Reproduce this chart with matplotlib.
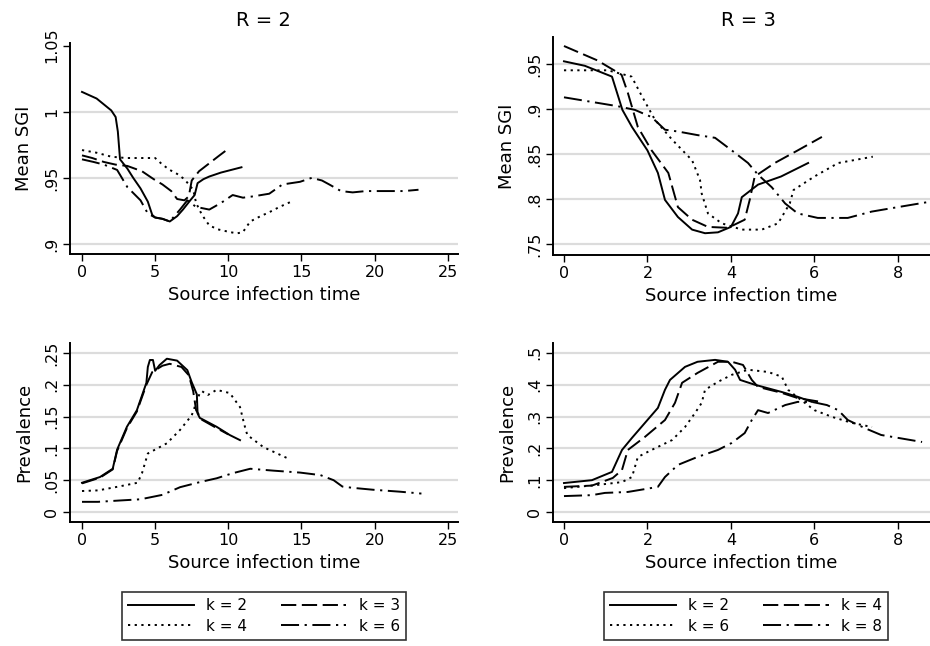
import matplotlib
matplotlib.use("Agg")
import matplotlib.pyplot as plt
from matplotlib.lines import Line2D

plt.rcParams["font.family"] = ["DejaVu Sans"]
plt.rcParams["lines.scale_dashes"] = False

# ---- R = 2, mean SGI ----
r2_sgi_k2_x = [0, 1, 2, 2.3, 2.45, 2.6, 3.1, 3.5, 4.0, 4.5, 4.8, 5.0, 5.5, 6.0, 6.5, 6.9, 7.4, 7.7, 7.9, 8.3, 8.7, 9.5, 10.2, 10.9]
r2_sgi_k2_y = [1.015, 1.010, 1.001, 0.996, 0.985, 0.964, 0.957, 0.950, 0.942, 0.932, 0.922, 0.920, 0.919, 0.917, 0.921, 0.926, 0.933, 0.937, 0.946, 0.949, 0.951, 0.954, 0.956, 0.958]
r2_sgi_k3_x = [0, 0.7, 1.5, 2.3, 3.1, 4.1, 4.9, 5.5, 6.1, 6.5, 7.0, 7.3, 7.5, 8.0, 8.7, 9.4, 10.0]
r2_sgi_k3_y = [0.967, 0.965, 0.962, 0.960, 0.959, 0.955, 0.949, 0.945, 0.940, 0.934, 0.933, 0.936, 0.948, 0.955, 0.961, 0.967, 0.972]
r2_sgi_k4_x = [0, 1.0, 2.0, 3.0, 4.0, 5.0, 5.5, 6.0, 6.5, 7.0, 7.6, 7.8, 8.2, 8.7, 9.3, 10.1, 10.6, 11.0, 11.5, 12.2, 12.8, 13.5, 14.3]
r2_sgi_k4_y = [0.971, 0.969, 0.966, 0.965, 0.965, 0.965, 0.960, 0.956, 0.953, 0.949, 0.941, 0.931, 0.922, 0.914, 0.911, 0.909, 0.908, 0.909, 0.917, 0.921, 0.924, 0.928, 0.932]
r2_sgi_k6_x = [0, 0.8, 1.5, 2.4, 3.1, 4.0, 4.5, 5.0, 5.5, 6.0, 6.7, 7.2, 7.8, 8.7, 9.5, 10.3, 11.0, 11.7, 12.8, 13.7, 14.9, 15.7, 16.4, 16.9, 17.7, 18.5, 19.4, 20.5, 22.0, 23.0]
r2_sgi_k6_y = [0.964, 0.962, 0.960, 0.956, 0.943, 0.933, 0.923, 0.920, 0.919, 0.917, 0.926, 0.933, 0.928, 0.926, 0.931, 0.937, 0.935, 0.936, 0.938, 0.945, 0.947, 0.950, 0.948, 0.945, 0.940, 0.939, 0.940, 0.940, 0.940, 0.941]

# ---- R = 3, mean SGI ----
r3_sgi_k2_x = [0, 0.5, 1.15, 1.4, 1.63, 2.0, 2.25, 2.42, 2.73, 3.07, 3.38, 3.69, 4.0, 4.17, 4.26, 4.65, 5.2, 5.85]
r3_sgi_k2_y = [0.953, 0.948, 0.936, 0.899, 0.880, 0.854, 0.829, 0.799, 0.780, 0.766, 0.762, 0.763, 0.769, 0.784, 0.802, 0.816, 0.825, 0.840]
r3_sgi_k4_x = [0, 0.8, 1.38, 1.53, 1.77, 2.1, 2.5, 2.73, 3.07, 3.45, 3.93, 4.33, 4.45, 4.57, 5.05, 5.6, 6.18]
r3_sgi_k4_y = [0.970, 0.954, 0.938, 0.918, 0.880, 0.854, 0.829, 0.791, 0.777, 0.769, 0.768, 0.777, 0.799, 0.825, 0.840, 0.854, 0.869]
r3_sgi_k6_x = [0, 1.05, 1.62, 1.87, 2.18, 2.59, 3.07, 3.26, 3.3, 3.45, 3.78, 4.26, 4.74, 5.13, 5.41, 5.5, 6.0, 6.57, 7.4]
r3_sgi_k6_y = [0.943, 0.943, 0.936, 0.914, 0.888, 0.866, 0.843, 0.821, 0.806, 0.784, 0.773, 0.766, 0.766, 0.773, 0.795, 0.810, 0.825, 0.840, 0.847]
r3_sgi_k8_x = [0, 0.65, 1.3, 1.7, 2.1, 2.42, 2.73, 3.2, 3.62, 4.02, 4.41, 4.65, 4.98, 5.3, 5.6, 6.08, 6.8, 7.37, 8.0, 8.77]
r3_sgi_k8_y = [0.913, 0.908, 0.903, 0.899, 0.891, 0.877, 0.875, 0.871, 0.868, 0.854, 0.840, 0.827, 0.813, 0.795, 0.784, 0.779, 0.779, 0.786, 0.791, 0.797]

# ---- R = 2, prevalence ----
r2_prev_k2_x = [0, 1.23, 2.1, 2.4, 3.07, 3.75, 4.4, 4.5, 4.64, 4.85, 5.0, 5.3, 5.8, 6.5, 7.2, 7.5, 7.85, 7.9, 8.05, 9.2, 10.1, 10.8]
r2_prev_k2_y = [0.046, 0.055, 0.068, 0.098, 0.134, 0.160, 0.203, 0.228, 0.239, 0.239, 0.222, 0.231, 0.241, 0.238, 0.223, 0.204, 0.185, 0.155, 0.148, 0.134, 0.121, 0.113]
r2_prev_k3_x = [0, 1.23, 2.1, 2.4, 3.07, 3.75, 4.4, 4.8, 5.5, 6.0, 6.8, 7.3, 7.6, 7.8, 8.2, 9.2, 10.0]
r2_prev_k3_y = [0.045, 0.054, 0.067, 0.096, 0.132, 0.158, 0.200, 0.220, 0.230, 0.233, 0.228, 0.215, 0.190, 0.160, 0.145, 0.132, 0.122]
r2_prev_k4_x = [0, 1.1, 2.5, 3.8, 4.1, 4.5, 5.8, 6.7, 7.5, 8.05, 8.2, 8.6, 9.2, 10.1, 10.8, 11.1, 11.3, 12.4, 14.0]
r2_prev_k4_y = [0.033, 0.034, 0.040, 0.046, 0.061, 0.092, 0.108, 0.129, 0.152, 0.187, 0.190, 0.184, 0.192, 0.187, 0.165, 0.137, 0.121, 0.102, 0.085]
r2_prev_k6_x = [0, 1.1, 2.5, 4.0, 5.5, 6.7, 8.05, 9.2, 10.3, 11.5, 13.1, 14.9, 16.3, 17.2, 17.8, 18.5, 19.9, 21.7, 23.2]
r2_prev_k6_y = [0.016, 0.016, 0.018, 0.020, 0.027, 0.039, 0.047, 0.053, 0.061, 0.068, 0.065, 0.062, 0.058, 0.050, 0.040, 0.038, 0.035, 0.032, 0.029]

# ---- R = 3, prevalence ----
r3_prev_k2_x = [0, 0.67, 1.15, 1.39, 1.63, 1.94, 2.25, 2.42, 2.54, 2.9, 3.2, 3.62, 3.93, 4.1, 4.22, 4.57, 5.22, 5.6, 5.94]
r3_prev_k2_y = [0.091, 0.100, 0.126, 0.195, 0.233, 0.280, 0.327, 0.384, 0.415, 0.456, 0.472, 0.478, 0.472, 0.447, 0.415, 0.400, 0.377, 0.362, 0.346]
r3_prev_k4_x = [0, 0.67, 1.17, 1.39, 1.53, 1.94, 2.42, 2.66, 2.83, 3.2, 3.69, 4.02, 4.29, 4.5, 4.65, 5.2, 5.6, 6.2]
r3_prev_k4_y = [0.079, 0.083, 0.107, 0.132, 0.195, 0.236, 0.289, 0.343, 0.406, 0.437, 0.472, 0.472, 0.462, 0.415, 0.393, 0.375, 0.358, 0.345]
r3_prev_k6_x = [0, 0.8, 1.39, 1.63, 1.77, 2.1, 2.59, 2.9, 3.14, 3.3, 3.38, 3.69, 4.02, 4.41, 4.89, 5.22, 5.37, 5.6, 6.0, 6.42, 6.9, 7.38]
r3_prev_k6_y = [0.075, 0.085, 0.094, 0.110, 0.173, 0.195, 0.226, 0.267, 0.311, 0.343, 0.384, 0.409, 0.431, 0.447, 0.440, 0.425, 0.384, 0.360, 0.320, 0.299, 0.280, 0.267]
r3_prev_k8_x = [0, 0.67, 0.98, 1.53, 1.94, 2.25, 2.42, 2.73, 3.2, 3.69, 4.02, 4.33, 4.5, 4.65, 4.89, 5.3, 5.6, 5.94, 6.3, 6.57, 6.8, 7.2, 7.6, 8.0, 8.58]
r3_prev_k8_y = [0.050, 0.053, 0.060, 0.063, 0.072, 0.079, 0.110, 0.148, 0.173, 0.195, 0.217, 0.248, 0.289, 0.320, 0.311, 0.336, 0.346, 0.346, 0.336, 0.320, 0.289, 0.264, 0.242, 0.233, 0.220]

# tick labels (Stata style)
r2_sgi_ticks = [0.9, 0.95, 1.0, 1.05]
r2_sgi_labels = [".9", ".95", "1", "1.05"]
r3_sgi_ticks = [0.75, 0.8, 0.85, 0.9, 0.95]
r3_sgi_labels = [".75", ".8", ".85", ".9", ".95"]
r2_prev_ticks = [0, 0.05, 0.1, 0.15, 0.2, 0.25]
r2_prev_labels = ["0", ".05", ".1", ".15", ".2", ".25"]
r3_prev_ticks = [0, 0.1, 0.2, 0.3, 0.4, 0.5]
r3_prev_labels = ["0", ".1", ".2", ".3", ".4", ".5"]
r2_xticks = [0, 5, 10, 15, 20, 25]
r3_xticks = [0, 2, 4, 6, 8]

styles = [
    dict(ls="-"),
    dict(ls=(0, (11, 4))),
    dict(ls=(0, (1.6, 3.2))),
    dict(ls=(0, (13, 4, 1.6, 4))),
]
lw = 1.4

fig = plt.figure(figsize=(9.3, 6.46), dpi=100)
W, H = 930, 646


def make_ax(l, t, r, b):
    return fig.add_axes([l / W, 1 - b / H, (r - l) / W, (b - t) / H])


ax_tl = make_ax(70, 43, 458, 254)
ax_tr = make_ax(553, 37, 930, 255)
ax_bl = make_ax(70, 343, 458, 522)
ax_br = make_ax(553, 343, 930, 522)

panels = [
    (ax_tl, [(r2_sgi_k2_x, r2_sgi_k2_y), (r2_sgi_k3_x, r2_sgi_k3_y), (r2_sgi_k4_x, r2_sgi_k4_y), (r2_sgi_k6_x, r2_sgi_k6_y)],
     (-0.82, 25.7), (0.8924, 1.052), r2_xticks, r2_sgi_ticks, r2_sgi_labels, "Mean SGI"),
    (ax_tr, [(r3_sgi_k2_x, r3_sgi_k2_y), (r3_sgi_k4_x, r3_sgi_k4_y), (r3_sgi_k6_x, r3_sgi_k6_y), (r3_sgi_k8_x, r3_sgi_k8_y)],
     (-0.263, 8.77), (0.7378, 0.98), r3_xticks, r3_sgi_ticks, r3_sgi_labels, "Mean SGI"),
    (ax_bl, [(r2_prev_k2_x, r2_prev_k2_y), (r2_prev_k3_x, r2_prev_k3_y), (r2_prev_k4_x, r2_prev_k4_y), (r2_prev_k6_x, r2_prev_k6_y)],
     (-0.82, 25.7), (-0.0157, 0.2657), r2_xticks, r2_prev_ticks, r2_prev_labels, "Prevalence"),
    (ax_br, [(r3_prev_k2_x, r3_prev_k2_y), (r3_prev_k4_x, r3_prev_k4_y), (r3_prev_k6_x, r3_prev_k6_y), (r3_prev_k8_x, r3_prev_k8_y)],
     (-0.263, 8.77), (-0.0314, 0.531), r3_xticks, r3_prev_ticks, r3_prev_labels, "Prevalence"),
]

for ax, series, xl, yl, xt, yt, ytl, ylab in panels:
    for (xs, ys), st in zip(series, styles):
        ax.plot(xs, ys, color="black", lw=lw, **st)
    ax.set_xlim(*xl)
    ax.set_ylim(*yl)
    ax.set_xticks(xt)
    ax.set_yticks(yt)
    ax.set_yticklabels(ytl, rotation=90, va="center")
    ax.tick_params(direction="out", length=5, width=1, labelsize=11.5, colors="black", pad=3)
    ax.set_xlabel("Source infection time", fontsize=13, labelpad=4)
    ax.set_ylabel(ylab, fontsize=13, labelpad=8)
    ax.yaxis.grid(True, color="#dcdcdc", lw=1.6)
    ax.set_axisbelow(True)
    for s in ["top", "right"]:
        ax.spines[s].set_visible(False)
    for s in ["left", "bottom"]:
        ax.spines[s].set_linewidth(1.4)

# Stata leaves no gridline at 1.05
ax_tl.yaxis.get_gridlines()[-1].set_visible(False)

fig.text(263 / W, 1 - 20 / H, "R = 2", ha="center", va="center", fontsize=14)
fig.text(748 / W, 1 - 20 / H, "R = 3", ha="center", va="center", fontsize=14)


def add_legend(ax, labels, cx):
    handles = [Line2D([], [], color="black", lw=lw, **st) for st in styles]
    order = [0, 2, 1, 3]
    leg = fig.legend([handles[i] for i in order], [labels[i] for i in order], ncol=2,
                     loc="center", bbox_to_anchor=(cx / W, 1 - 616 / H),
                     frameon=True, fancybox=False, edgecolor="black", fontsize=11,
                     handlelength=4.3, handletextpad=0.8, columnspacing=2.2,
                     labelspacing=0.35, borderpad=0.4)
    leg.get_frame().set_linewidth(1.2)
    return leg


add_legend(ax_bl, ["k = 2", "k = 3", "k = 4", "k = 6"], 264)
add_legend(ax_br, ["k = 2", "k = 4", "k = 6", "k = 8"], 746)

fig.savefig("out.png", dpi=100, facecolor="white")
